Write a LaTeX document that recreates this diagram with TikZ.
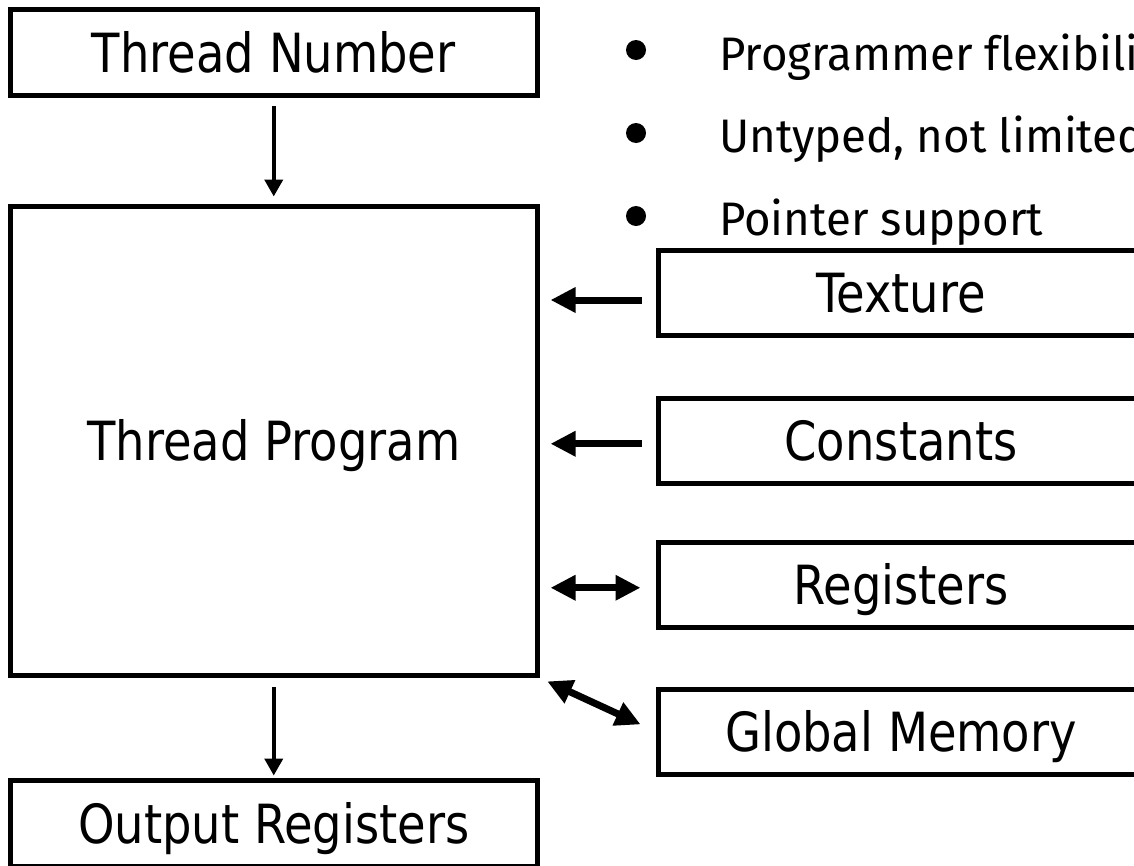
\documentclass[tikz,border=0pt]{standalone}
\usepackage{fontspec}
\newfontfamily\boxfont{DejaVu Sans}[FakeStretch=0.86]
\newfontfamily\listfont{Fira Sans}[FakeStretch=0.97, Ligatures=NoCommon]
\usetikzlibrary{arrows.meta}
\begin{document}
\begin{tikzpicture}[x=1pt, y=-1pt,
  blk/.style={draw, line width=5pt, inner sep=0pt,
    font=\boxfont\fontsize{54}{58}\selectfont,
    text height=39.4pt, text depth=0pt},
  leftblk/.style={blk, minimum width=527.5pt, minimum height=86pt},
  rightblk/.style={blk, minimum width=485pt, minimum height=85pt},
  thinarrow/.style={line width=4pt, -{Triangle[length=17pt,width=18pt]}},
  bigarrow/.style={line width=7pt, -{Triangle[length=25pt,width=24pt]}},
  bigboth/.style={line width=7pt, {Triangle[length=25pt,width=24pt]}-{Triangle[length=25pt,width=24pt]}},
  dot/.style={circle, fill, inner sep=0pt, minimum size=20pt},
  item/.style={anchor=base west, inner sep=0pt,
    font=\listfont\fontsize{47}{52}\selectfont}]
\useasboundingbox (0,0) rectangle (1134,865);

% left column: thread flow
\node[leftblk] (num) at (273.75,52.5) {Thread Number};
\node[leftblk, minimum height=469pt] (prog) at (273.75,441) {Thread Program};
\node[leftblk] (out) at (273.75,823.5) {Output Registers};

% right column: memory spaces
\node[rightblk] (tex)  at (901,293)    {Texture};
\node[rightblk] (cons) at (901,440.75) {Constants};
\node[rightblk] (regs) at (901,584.75) {Registers};
\node[rightblk] (glob) at (901,731.5)  {Global Memory};

% bullet list
\node[dot] (d1) at (636,50)  {};
\node[dot] (d2) at (636,133) {};
\node[dot] (d3) at (636,216) {};
\node[item] (l1) at (719,70)  {Programmer flexibility};
\node[item] (l2) at (719,152) {Untyped, not limited to fixed texture types};
\node[item] (l3) at (719,235) {Pointer support};

% attachment points of the side connectors, a little below the box centres
\coordinate (texin)  at ([yshift=-7pt]tex.west);
\coordinate (consin) at ([yshift=-3pt]cons.west);
\coordinate (regsin) at ([yshift=-3pt]regs.west);

% connectors
\draw[thinarrow, shorten <=7.5pt, shorten >=7.5pt] (num.south) -- (prog.north);
\draw[thinarrow, shorten <=8.5pt, shorten >=2.5pt] (prog.south) -- (out.north);
\draw[bigarrow, shorten <=14.5pt, shorten >=10.5pt] (texin) -- (prog.east |- texin);
\draw[bigarrow, shorten <=14.5pt, shorten >=10.5pt] (consin) -- (prog.east |- consin);
\draw[bigboth, shorten <=10.5pt, shorten >=15.5pt] (prog.east |- regsin) -- (regsin);
\draw[bigboth, shorten <=8pt, shorten >=17pt] (prog.south east) -- (glob.west);
\end{tikzpicture}
\end{document}
